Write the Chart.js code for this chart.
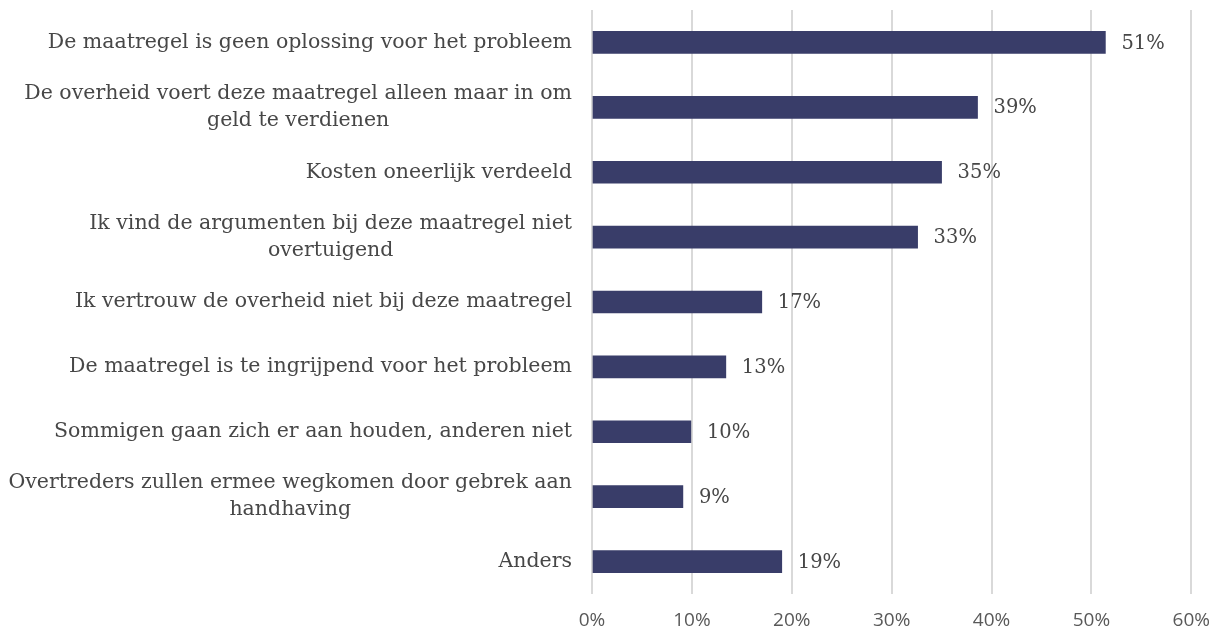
<!DOCTYPE html>
<html>
<head>
<meta charset="utf-8">
<script src="https://cdn.jsdelivr.net/npm/chart.js@4.4.0/dist/chart.umd.min.js"></script>
<style>
  html, body { margin: 0; padding: 0; background: #ffffff; }
  #wrap { width: 1225px; height: 632px; }
</style>
</head>
<body>
<div id="wrap"><canvas id="bar-chart"></canvas></div>
<script>
// categories (multi-line labels as arrays)
var labels = [
  ["De maatregel is geen oplossing voor het probleem"],
  ["De overheid voert deze maatregel alleen maar in om", "geld te verdienen"],
  ["Kosten oneerlijk verdeeld"],
  ["Ik vind de argumenten bij deze maatregel niet", "overtuigend"],
  ["Ik vertrouw de overheid niet bij deze maatregel"],
  ["De maatregel is te ingrijpend voor het probleem"],
  ["Sommigen gaan zich er aan houden, anderen niet"],
  ["Overtreders zullen ermee wegkomen door gebrek aan", "handhaving"],
  ["Anders"]
];
// percentages
var values = [51.4, 38.6, 35.0, 32.6, 17.0, 13.4, 9.9, 9.1, 19.0];
var ticks = [0, 10, 20, 30, 40, 50, 60];

var labelFont = "20.5px 'DejaVu Serif'";
var textColor = "#474747";

// draws the category labels (centered lines, block right aligned) and value labels
var labelPlugin = {
  id: "labels",
  afterDatasetsDraw: function (chart) {
    var ctx = chart.ctx;
    var yScale = chart.scales.y;
    var xScale = chart.scales.x;
    var right = chart.chartArea.left - 20;
    var lineH = 27;
    ctx.save();
    ctx.font = labelFont;
    ctx.fillStyle = textColor;
    ctx.textBaseline = "middle";
    ctx.textAlign = "center";
    labels.forEach(function (lines, i) {
      var yc = yScale.getPixelForValue(i);
      var w = 0;
      lines.forEach(function (l) { w = Math.max(w, ctx.measureText(l).width); });
      var cx = right - w / 2;
      var y0 = yc - (lines.length - 1) * lineH / 2;
      lines.forEach(function (l, k) {
        ctx.fillText(l, cx, y0 + k * lineH);
      });
    });
    // value labels
    ctx.textAlign = "left";
    ctx.font = "19.5px 'DejaVu Serif'";
    values.forEach(function (v, i) {
      ctx.fillText(Math.round(v) + "%", xScale.getPixelForValue(v) + 16, yScale.getPixelForValue(i) + 1);
    });
    ctx.restore();
  }
};

var barChart = document.getElementById("bar-chart").getContext("2d");
var chart = new Chart(barChart, {
  type: "bar",
  data: {
    labels: labels.map(function (l) { return l.join(" "); }),
    datasets: [{
      data: values,
      backgroundColor: "#393D69",
      barThickness: 22
    }]
  },
  options: {
    indexAxis: "y",
    responsive: true,
    maintainAspectRatio: false,
    animation: false,
    layout: { padding: { left: 592, right: 33, top: 10, bottom: 0 } },
    plugins: {
      legend: { display: false },
      tooltip: { enabled: false }
    },
    scales: {
      x: {
        min: 0,
        max: 60,
        afterBuildTicks: function (axis) {
          axis.ticks = ticks.map(function (t) { return { value: t }; });
        },
        afterFit: function (axis) {
          axis.height = 38;
        },
        border: { display: false },
        grid: { color: "#d9d9d9", lineWidth: 2, drawTicks: false },
        ticks: {
          padding: 15,
          color: "#595959",
          font: { family: "'Open Sans'", size: 19 },
          callback: function (v) { return v + "%"; }
        }
      },
      y: {
        display: false
      }
    }
  },
  plugins: [labelPlugin]
});
</script>
</body>
</html>
